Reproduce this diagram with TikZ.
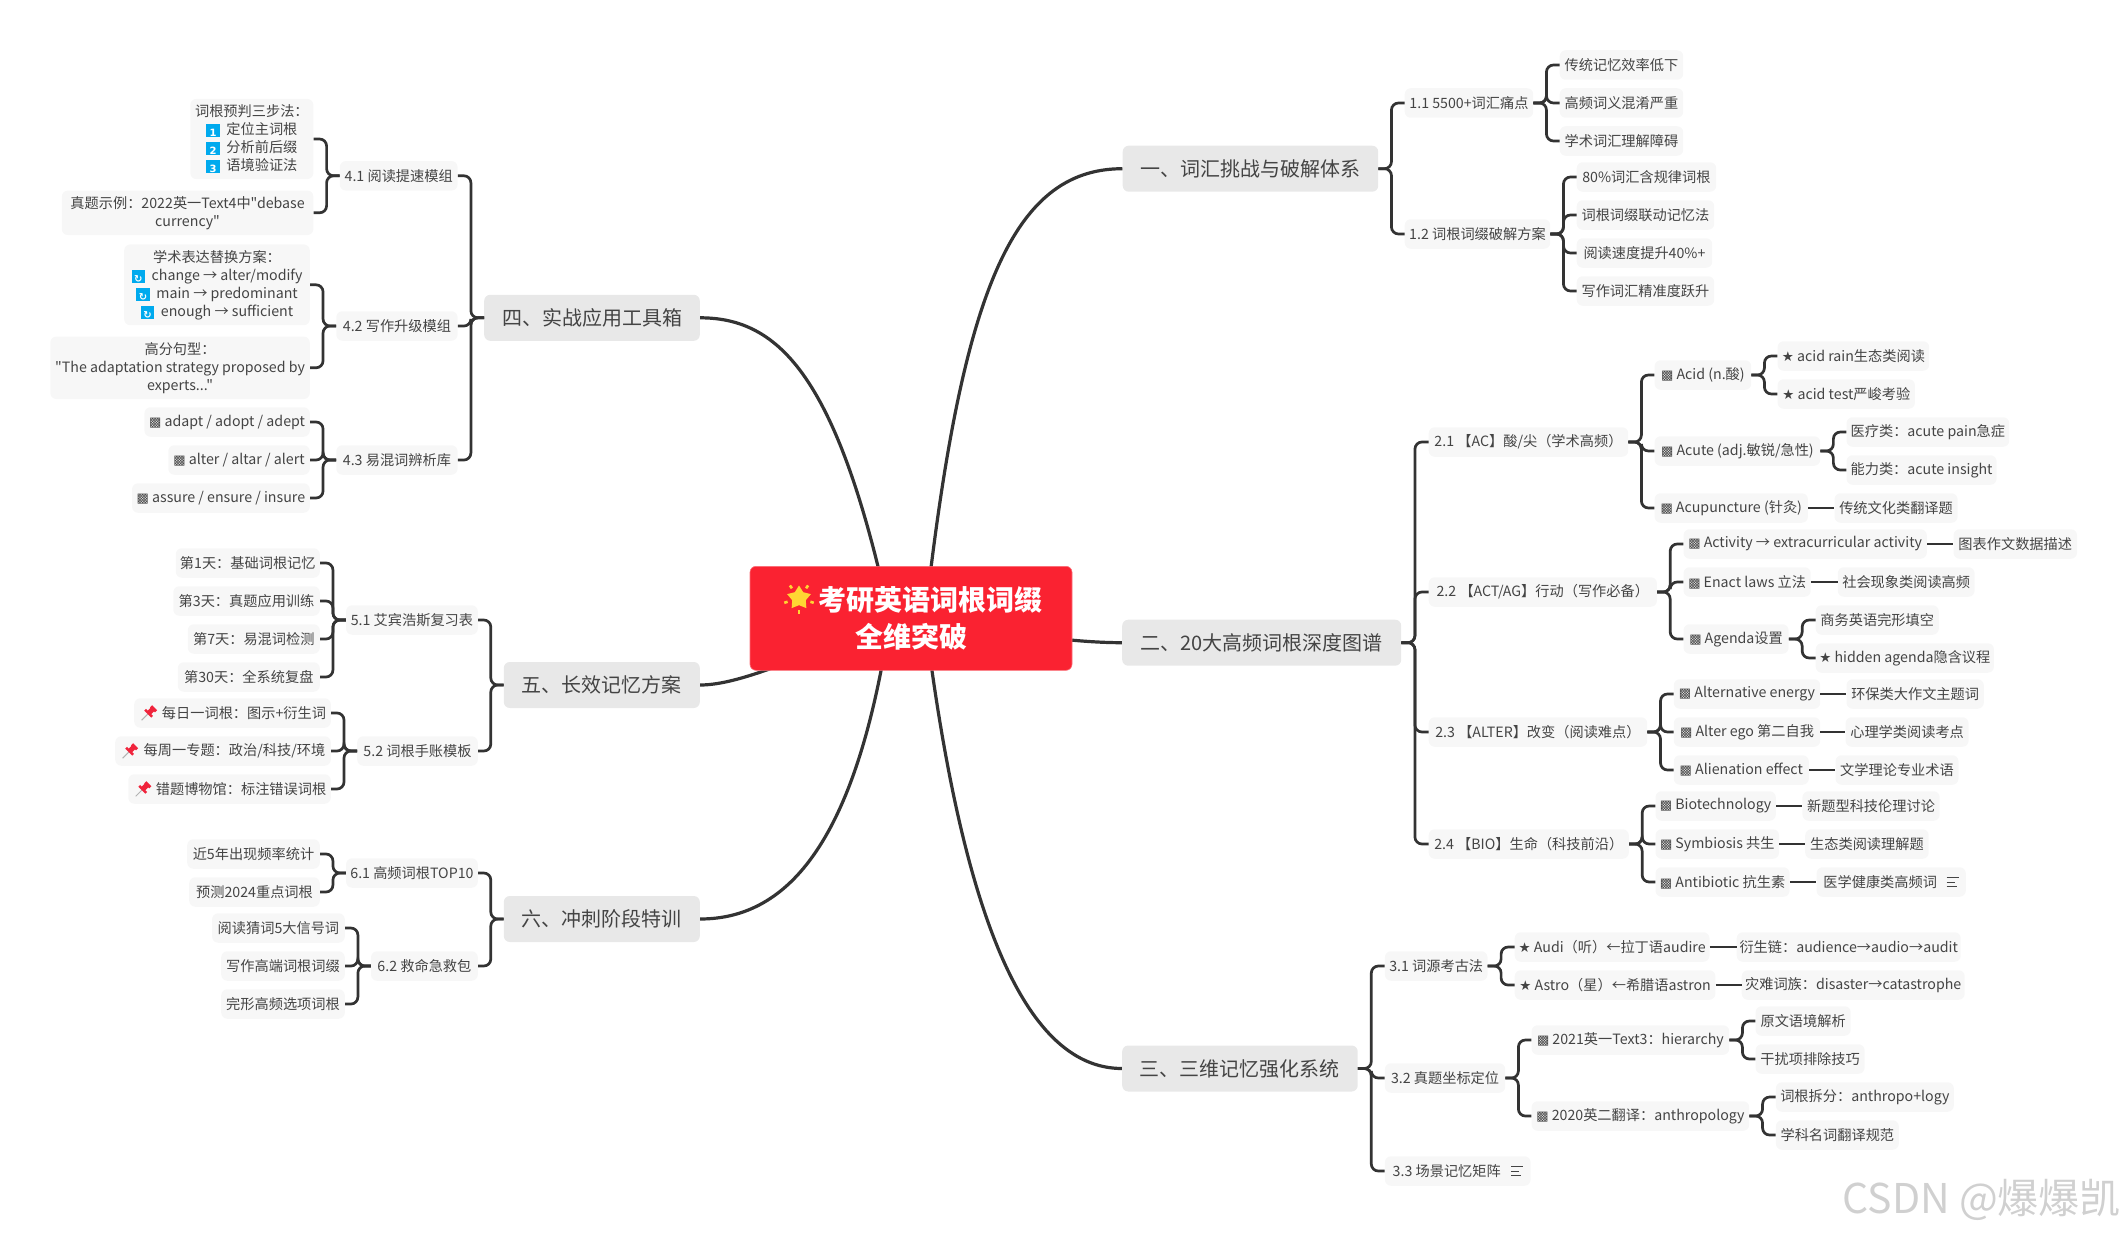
\documentclass[tikz,border=0pt]{standalone}
\usepackage{xcolor}
\usepackage{fontspec}
\setmainfont[Ligatures=TeXOff]{Noto Sans CJK SC}
\newfontfamily\symfont{DejaVu Sans}
\usepackage{tikz}
\usetikzlibrary{shapes.geometric, calc, backgrounds}
\definecolor{rootred}{RGB}{250,34,49}
\definecolor{rootedge}{RGB}{250,110,120}
\definecolor{mydark}{RGB}{51,51,51}
\definecolor{mytext}{RGB}{68,68,68}
\definecolor{hdrgray}{RGB}{232,232,232}
\definecolor{leafgray}{RGB}{247,247,247}
\definecolor{iconblue}{RGB}{0,170,238}
\definecolor{pinred}{RGB}{240,36,60}
\definecolor{sunyellow}{RGB}{255,214,51}
\definecolor{markgray}{RGB}{208,208,208}
\newcommand{\sqmark}{{\symfont\fontsize{13}{13}\selectfont ▩}}
\newcommand{\starmark}{{\symfont\fontsize{13.5}{13.5}\selectfont ★}}
\newcommand{\iconbox}[1]{\raisebox{-2pt}{\setlength{\fboxsep}{0pt}\colorbox{iconblue}{\makebox[13.5pt][c]{\rule[-1pt]{0pt}{13.5pt}\textcolor{white}{\symfont\bfseries\fontsize{10}{10}\selectfont #1}}}}\hspace{3.5pt}}
\tikzset{
  rootnode/.style={rectangle, draw=rootedge, fill=rootred, text=white,
    minimum width=322pt, minimum height=104pt, rounded corners=6pt, line width=0.6pt,
    align=center, font={\fontsize{28}{36.5}\selectfont\bfseries}},
  branch/.style={rectangle, fill=hdrgray, text=mytext, inner sep=0pt,
    minimum height=46pt, rounded corners=6pt, font={\fontsize{20}{24}\selectfont}},
  leaf/.style={rectangle, fill=leafgray, text=mytext, inner xsep=0pt, inner ysep=5.6pt,
    minimum height=29.5pt, rounded corners=6pt, align=center,
    font={\fontsize{14.2}{18}\selectfont}},
  wd/.style={minimum width=#1pt},
  curve/.style={line width=3.2pt, color=mydark},
  link/.style={line width=2.7pt, color=mydark, rounded corners=7pt},
  noteline/.style={line width=1pt, color=mytext}
}
\begin{document}
\begin{tikzpicture}[x=1pt,y=-1pt]
  \useasboundingbox (0,0) rectangle (2127,1236);

  % Centre
  \node[rootnode] (root) at (911,618.3) {\hspace*{38pt}考研英语词根词缀\\全维突破};
  \node[star, star points=5, star point ratio=1.75, fill=sunyellow, minimum size=25pt, inner sep=0pt] (sun) at (799,598) {};
  \foreach \a in {-54,-126,-198,-270,-342}
    \draw[line width=2.6pt, color=sunyellow] (sun.center)+(\a:12) -- +(\a:15.5);

  % Right branches
  \node[branch, wd=255.5, anchor=west] (b1) at (1122.5,168.7) {一、词汇挑战与破解体系};
  \node[branch, wd=279, anchor=west] (b2) at (1122,642.7) {二、20大高频词根深度图谱};
  \node[branch, wd=235.5, anchor=west] (b3) at (1122,1068.5) {三、三维记忆强化系统};

  % Left branches
  \node[branch, wd=215.6, anchor=east] (b4) at (700,317.8) {四、实战应用工具箱};
  \node[branch, wd=196, anchor=east] (b5) at (700,685) {五、长效记忆方案};
  \node[branch, wd=196, anchor=east] (b6) at (700,919) {六、冲刺阶段特训};

  % Part one
  \node[leaf, wd=128.5, anchor=west] (s11) at (1404.5,103) {1.1 5500+词汇痛点};
  \node[leaf, wd=145.5, anchor=west] (s12) at (1404.5,234) {1.2 词根词缀破解方案};
  \node[leaf, wd=123.5, anchor=west] (n111) at (1559.5,65) {传统记忆效率低下};
  \node[leaf, wd=123.5, anchor=west] (n112) at (1559.5,103) {高频词义混淆严重};
  \node[leaf, wd=123.5, anchor=west] (n113) at (1559.5,141) {学术词汇理解障碍};
  \node[leaf, wd=139.5, anchor=west] (n121) at (1576.5,177) {80\%词汇含规律词根};
  \node[leaf, wd=137.5, anchor=west] (n122) at (1576.5,215) {词根词缀联动记忆法};
  \node[leaf, wd=135.5, anchor=west] (n123) at (1576.5,253) {阅读速度提升40\%+};
  \node[leaf, wd=137.5, anchor=west] (n124) at (1576.5,291) {写作词汇精准度跃升};

  % Part two
  \node[leaf, wd=199.5, anchor=west] (s21) at (1428.5,442) {2.1 【AC】酸/尖（学术高频）};
  \node[leaf, wd=96.6, anchor=west] (n211) at (1654.4,375) {\sqmark{} Acid (n.酸)};
  \node[leaf, wd=151.6, anchor=west] (m2111) at (1777.4,356) {\starmark{} acid rain生态类阅读};
  \node[leaf, wd=137.3, anchor=west] (m2112) at (1777.4,394) {\starmark{} acid test严峻考验};
  \node[leaf, wd=165.6, anchor=west] (n212) at (1654.4,451) {\sqmark{} Acute (adj.敏锐/急性)};
  \node[leaf, wd=162.7, anchor=west] (m2121) at (1846.3,432) {医疗类：acute pain急症};
  \node[leaf, wd=150.1, anchor=west] (m2122) at (1846.3,470) {能力类：acute insight};
  \node[leaf, wd=153.3, anchor=west] (n213) at (1654.4,508) {\sqmark{} Acupuncture (针灸)};
  \node[leaf, wd=123.1, anchor=west] (m2131) at (1834.3,508) {传统文化类翻译题};

  \node[leaf, wd=228.2, anchor=west] (s22) at (1428.5,592) {2.2 【ACT/AG】行动（写作必备）};
  \node[leaf, wd=243.3, anchor=west] (n221) at (1683.3,544) {\sqmark{} Activity → extracurricular activity};
  \node[leaf, wd=123.5, anchor=west] (m2211) at (1953.3,544) {图表作文数据描述};
  \node[leaf, wd=127.2, anchor=west] (n222) at (1683.3,582) {\sqmark{} Enact laws 立法};
  \node[leaf, wd=136.8, anchor=west] (m2221) at (1837.6,582) {社会现象类阅读高频};
  \node[leaf, wd=105.1, anchor=west] (n223) at (1683.3,639) {\sqmark{} Agenda设置};
  \node[leaf, wd=123.1, anchor=west] (m2231) at (1815.5,620) {商务英语完形填空};
  \node[leaf, wd=178.2, anchor=west] (m2232) at (1815.5,658) {\starmark{} hidden agenda隐含议程};

  \node[leaf, wd=218.5, anchor=west] (s23) at (1428.5,732) {2.3 【ALTER】改变（阅读难点）};
  \node[leaf, wd=146.4, anchor=west] (n231) at (1673.6,694) {\sqmark{} Alternative energy};
  \node[leaf, wd=137.3, anchor=west] (m2311) at (1846.3,694) {环保类大作文主题词};
  \node[leaf, wd=146.4, anchor=west] (n232) at (1673.6,732) {\sqmark{} Alter ego 第二自我};
  \node[leaf, wd=123, anchor=west] (m2321) at (1845.4,732) {心理学类阅读考点};
  \node[leaf, wd=135, anchor=west] (n233) at (1673.6,770) {\sqmark{} Alienation effect};
  \node[leaf, wd=123, anchor=west] (m2331) at (1835.3,770) {文学理论专业术语};

  \node[leaf, wd=200.1, anchor=west] (s24) at (1428.5,844) {2.4 【BIO】生命（科技前沿）};
  \node[leaf, wd=120.3, anchor=west] (n241) at (1655.3,806) {\sqmark{} Biotechnology};
  \node[leaf, wd=137.3, anchor=west] (m2411) at (1802.2,806) {新题型科技伦理讨论};
  \node[leaf, wd=123.5, anchor=west] (n242) at (1655.3,844) {\sqmark{} Symbiosis 共生};
  \node[leaf, wd=123.5, anchor=west] (m2421) at (1805,844) {生态类阅读理解题};
  \node[leaf, wd=134.1, anchor=west] (n243) at (1655.3,882) {\sqmark{} Antibiotic 抗生素};
  \node[leaf, wd=149.2, anchor=west] (m2431) at (1816.4,882) {医学健康类高频词\hspace*{22pt}};

  % Part three
  \node[leaf, wd=102.6, anchor=west] (s31) at (1384.7,966) {3.1 词源考古法};
  \node[leaf, wd=194.8, anchor=west] (n311) at (1514.5,947) {\starmark{} Audi（听）←拉丁语audire};
  \node[leaf, wd=224, anchor=west] (m3111) at (1736.5,947) {衍生链：audience→audio→audit};
  \node[leaf, wd=200.7, anchor=west] (n312) at (1514.5,985) {\starmark{} Astro（星）←希腊语astron};
  \node[leaf, wd=223, anchor=west] (m3121) at (1741.5,985) {灾难词族：disaster→catastrophe};
  \node[leaf, wd=120.3, anchor=west] (s32) at (1384.7,1078) {3.2 真题坐标定位};
  \node[leaf, wd=197.6, anchor=west] (n321) at (1531.4,1040) {\sqmark{} 2021英一Text3：hierarchy};
  \node[leaf, wd=95.1, anchor=west] (m3211) at (1755.4,1021) {原文语境解析};
  \node[leaf, wd=109, anchor=west] (m3212) at (1755.4,1059) {干扰项排除技巧};
  \node[leaf, wd=217.6, anchor=west] (n322) at (1531.4,1116) {\sqmark{} 2020英二翻译：anthropology};
  \node[leaf, wd=177.9, anchor=west] (m3221) at (1775.7,1097) {词根拆分：anthropo+logy};
  \node[leaf, wd=122.9, anchor=west] (m3222) at (1775.7,1135) {学科名词翻译规范};
  \node[leaf, wd=145.7, anchor=west] (s33) at (1384.7,1171) {3.3 场景记忆矩阵\hspace*{22pt}};

  % Part four
  \node[leaf, wd=117.8, anchor=east] (s41) at (457.8,175.8) {4.1 阅读提速模组};
  \node[leaf, wd=123.1, anchor=east] (n411) at (313.6,139) {词根预判三步法：\\\iconbox{1} 定位主词根\\\iconbox{2} 分析前后缀\\\iconbox{3} 语境验证法};
  \node[leaf, wd=251.6, anchor=east] (n412) at (313.6,212.8) {真题示例：2022英一Text4中"debase\\currency"};
  \node[leaf, wd=121.3, anchor=east] (s42) at (457.8,326) {4.2 写作升级模组};
  \node[leaf, wd=185.6, anchor=east] (n421) at (310,284.8) {学术表达替换方案：\\\iconbox{↻} change → alter/modify\\\iconbox{↻} main → predominant\\\iconbox{↻} enough → sufficient};
  \node[leaf, wd=259.5, anchor=east] (n422) at (310,367.8) {高分句型：\\"The adaptation strategy proposed by\\experts..."};
  \node[leaf, wd=121.3, anchor=east] (s43) at (457.8,460) {4.3 易混词辨析库};
  \node[leaf, wd=165.4, anchor=east] (n431) at (310,422) {\sqmark{} adapt / adopt / adept};
  \node[leaf, wd=141.5, anchor=east] (n432) at (310,460) {\sqmark{} alter / altar / alert};
  \node[leaf, wd=177.8, anchor=east] (n433) at (310,498) {\sqmark{} assure / ensure / insure};

  % Part five
  \node[leaf, wd=131.7, anchor=east] (s51) at (478,620) {5.1 艾宾浩斯复习表};
  \node[leaf, wd=144, anchor=east] (n511) at (320,563) {第1天：基础词根记忆};
  \node[leaf, wd=146.5, anchor=east] (n512) at (320,601) {第3天：真题应用训练};
  \node[leaf, wd=132, anchor=east] (n513) at (320,639) {第7天：易混词检测};
  \node[leaf, wd=142, anchor=east] (n514) at (320,677) {第30天：全系统复盘};
  \node[leaf, wd=120.6, anchor=east] (s52) at (478,751) {5.2 词根手账模板};
  \node[leaf, wd=196.6, anchor=east] (n521) at (331,713) {\hspace*{23pt}每日一词根：图示+衍生词};
  \node[leaf, wd=215.6, anchor=east] (n522) at (331,751) {\hspace*{23pt}每周一专题：政治/科技/环境};
  \node[leaf, wd=202.5, anchor=east] (n523) at (331,789) {\hspace*{23pt}错题博物馆：标注错误词根};

  % Part six
  \node[leaf, wd=131.7, anchor=east] (s61) at (478,873) {6.1 高频词根TOP10};
  \node[leaf, wd=132.6, anchor=east] (n611) at (320,854) {近5年出现频率统计};
  \node[leaf, wd=130.6, anchor=east] (n612) at (320,892) {预测2024重点词根};
  \node[leaf, wd=106.8, anchor=east] (s62) at (478,966) {6.2 救命急救包};
  \node[leaf, wd=132.7, anchor=east] (n621) at (345,928) {阅读猜词5大信号词};
  \node[leaf, wd=123.6, anchor=east] (n622) at (345,966) {写作高端词根词缀};
  \node[leaf, wd=123.6, anchor=east] (n623) at (345,1004) {完形高频选项词根};

  % Note marks
  \foreach \y/\w in {-4.5/12, 0/8, 4.5/10}{
    \draw[noteline] ($(m2431.east)+(-19.5,\y)$) -- ++(\w,0);
    \draw[noteline] ($(s33.east)+(-19.5,\y)$) -- ++(\w,0);
  }

  % Pins
  \foreach \n in {n521,n522,n523}{
    \draw[line width=1pt, color=gray!60] ($(\n.west)+(15.6,-0.7)$) -- ++(-8,8);
    \draw[line width=5pt, color=pinred] ($(\n.west)+(14.6,0.3)$) -- ++(5,-5);
    \draw[line width=3pt, color=pinred] ($(\n.west)+(17.1,-6.7)$) -- ++(5,5);
    \draw[line width=2.5pt, color=pinred] ($(\n.west)+(11.1,-3.2)$) -- ++(7,7);
  }

  % Main curves
  \begin{pgfonlayer}{background}
    \draw[curve] ($(root.center)+(14,0)$) .. controls (961,298) and (1010,168.7) .. (b1.west);
    \draw[curve] (root.center) .. controls (1000,632) and (1070,642.7) .. (b2.west);
    \draw[curve] ($(root.center)+(14,0)$) .. controls (960,900) and (1020,1068.5) .. (b3.west);
    \draw[curve] ($(root.center)+(-21,0)$) .. controls (838,378) and (780,317.8) .. (b4.east);
    \draw[curve] (root.center) .. controls (810,650) and (745,685) .. (b5.east);
    \draw[curve] ($(root.center)+(-21,0)$) .. controls (857,838) and (790,919) .. (b6.east);
  \end{pgfonlayer}

  % Right side links
  \foreach \up/\kid in {b1/s11, b1/s12, s11/n111, s11/n112, s11/n113, s12/n121, s12/n122, s12/n123, s12/n124,
      b2/s21, b2/s22, b2/s23, b2/s24, s21/n211, s21/n212, s21/n213, n211/m2111, n211/m2112, n212/m2121, n212/m2122,
      s22/n221, s22/n222, s22/n223, n223/m2231, n223/m2232, s23/n231, s23/n232, s23/n233, s24/n241, s24/n242, s24/n243,
      b3/s31, b3/s32, b3/s33, s31/n311, s31/n312, s32/n321, s32/n322, n321/m3211, n321/m3212, n322/m3221, n322/m3222}
    \draw[link] (\up.east) -- ($(\up.east)!.5!(\kid.west |- \up.east)$) |- (\kid.west);
  \foreach \up/\kid in {n213/m2131, n221/m2211, n222/m2221, n231/m2311, n232/m2321, n233/m2331,
      n241/m2411, n242/m2421, n243/m2431, n311/m3111, n312/m3121}
    \draw[link] (\up.east) -- (\kid.west);

  % Left side links
  \foreach \up/\kid in {b4/s41, b4/s42, b4/s43, s41/n411, s41/n412, s42/n421, s42/n422, s43/n431, s43/n432, s43/n433,
      b5/s51, b5/s52, s51/n511, s51/n512, s51/n513, s51/n514, s52/n521, s52/n522, s52/n523,
      b6/s61, b6/s62, s61/n611, s61/n612, s62/n621, s62/n622, s62/n623}
    \draw[link] (\up.west) -- ($(\up.west)!.5!(\kid.east |- \up.west)$) |- (\kid.east);

  % Watermark
  \node[text=markgray, inner sep=0pt, anchor=east, font={\fontsize{41}{46}\selectfont}] (mark) at (2121,1200) {CSDN @爆爆凯};
\end{tikzpicture}
\end{document}
